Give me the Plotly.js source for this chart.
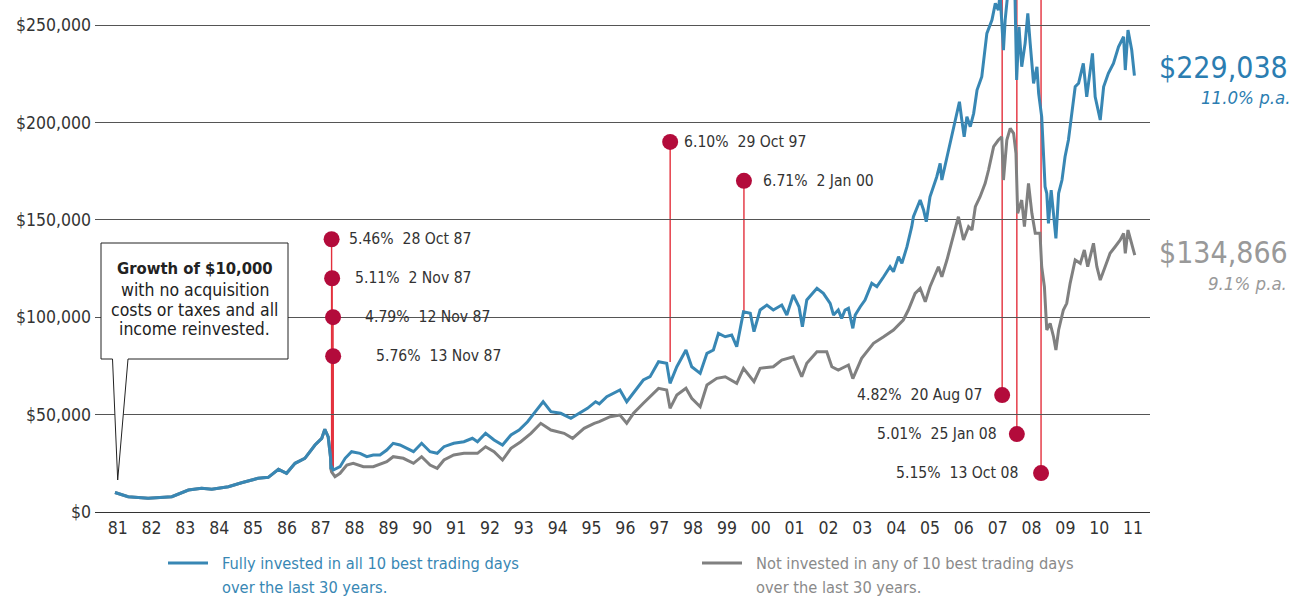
<!DOCTYPE html>
<html>
<head>
<meta charset="utf-8">
<script src="https://cdn.plot.ly/plotly-3.0.1.min.js"></script>
<style>html,body{margin:0;padding:0;background:#fff;}#chart{width:1304px;height:596px;}</style>
</head>
<body>
<div id="chart"></div>
<script>
// ---------------- DATA ----------------
// Fully invested (blue)
const blueYears = [1981.42,1981.81,1982.40,1983.10,1983.59,1983.98,1984.28,1984.77,1985.16,1985.65,1985.95,1986.25,1986.49,1986.74,1987.03,1987.33,1987.53,1987.62,1987.72,1987.79,1987.80,
  1987.82,1987.87,1988.07,1988.22,1988.41,1988.66,1988.86,1989.05,1989.25,1989.45,1989.64,1989.84,1990.04,1990.24,1990.48,1990.73,1990.94,1991.14,1991.43,1991.73,1991.98,
  1992.13,1992.37,1992.62,1992.87,1993.12,1993.36,1993.61,1993.80,1994.07,1994.30,1994.59,1994.89,1995.14,1995.38,1995.62,1995.73,1995.95,1996.15,1996.34,1996.54,1996.74,
  1997.03,1997.23,1997.48,1997.72,1997.82,1998.02,1998.29,1998.46,1998.71,1998.91,1999.10,1999.25,1999.45,1999.64,1999.79,1999.99,2000.19,2000.30,2000.48,2000.68,2000.87,
  2001.12,2001.27,2001.46,2001.63,2001.73,2001.86,2002.16,2002.35,2002.55,2002.65,2002.79,2002.89,2002.99,2003.09,2003.22,2003.29,2003.44,2003.58,2003.78,2003.93,
  2004.13,2004.32,2004.42,2004.57,2004.67,2004.82,2004.96,2005.01,2005.21,2005.31,2005.39,2005.50,2005.70,2005.80,2005.85,2006.00,2006.14,2006.29,2006.37,2006.44,
  2006.51,2006.59,2006.69,2006.79,2006.89,2007.03,2007.18,2007.33,2007.43,2007.52,2007.57,2007.67,2007.72,2007.82,2007.93,2008.01,2008.06,2008.13,2008.21,2008.31,
  2008.39,2008.46,2008.56,2008.66,2008.71,2008.80,2008.85,2008.90,2008.95,2009.00,2009.08,2009.15,2009.22,2009.30,2009.40,2009.49,2009.59,2009.69,2009.79,2009.89,
  2010.03,2010.13,2010.30,2010.38,2010.53,2010.63,2010.77,2010.92,2011.07,2011.22,2011.27,2011.35,2011.46,2011.54];
const blueValues = [10000,7850,7030,7850,11300,12170,11650,12990,15040,17300,17810,21920,19860,25000,27560,34390,37830,42450,38500,28000,22000,
  23500,21560,23250,27560,30950,30130,28390,29260,29260,31820,35260,34390,32700,30950,35260,30950,30130,33520,35260,36080,37830,
  36080,40400,36960,34390,39520,42090,46350,50660,56620,51480,50660,48100,50660,53230,56620,55500,59180,60930,62620,56620,60930,
  67760,69450,77150,76330,66060,74580,83150,74580,71190,81460,83150,91730,89980,90850,84850,102810,101990,92550,103690,106250,103690,
  106250,101120,111390,105380,95110,108820,114820,112260,107130,101120,103690,99430,103690,104560,94290,101120,105380,108820,117390,115650,
  120780,125910,123350,131050,127660,136180,146450,151580,160150,155020,149010,161840,172110,178990,170420,182380,192640,204650,210610,201210,
  192640,202910,197780,204650,216610,223440,245720,252540,261110,257680,266000,237140,252540,270000,272000,266000,221750,249110,228570,240580,
  255980,240580,220050,228570,214920,202910,185810,166980,163590,148190,165280,151580,140490,163590,170420,182380,190950,204650,218310,220050,
  230320,213180,235450,213180,201210,218310,225180,230320,238840,243970,226880,247410,237140,224000];

// Not invested in any of the best days (gray) — identical to blue before the Oct-87 best days
const grayYears = [1981.42,1981.81,1982.40,1983.10,1983.59,1983.98,1984.28,1984.77,1985.16,1985.65,1985.95,1986.25,1986.49,1986.74,1987.03,1987.33,1987.53,1987.62,1987.72,1987.79,1987.80,
  1987.82,1987.92,1988.07,1988.27,1988.46,1988.76,1989.05,1989.45,1989.64,1989.94,1990.24,1990.48,1990.73,1990.94,1991.14,1991.43,1991.73,1992.13,1992.37,1992.62,1992.87,
  1993.12,1993.41,1993.71,1994.00,1994.30,1994.69,1994.94,1995.28,1995.58,1995.73,1996.05,1996.34,1996.54,1996.74,1997.03,1997.23,1997.48,1997.72,1997.82,1998.02,
  1998.29,1998.46,1998.71,1998.91,1999.20,1999.45,1999.79,1999.99,2000.30,2000.48,2000.87,2001.12,2001.46,2001.71,2001.86,2002.16,2002.45,2002.60,2002.79,2003.09,
  2003.22,2003.48,2003.83,2004.13,2004.42,2004.71,2004.86,2005.06,2005.21,2005.36,2005.50,2005.75,2005.85,2006.00,2006.19,2006.34,2006.49,2006.64,2006.74,2006.84,
  2006.98,2007.13,2007.23,2007.38,2007.52,2007.62,2007.67,2007.77,2007.87,2007.97,2008.04,2008.09,2008.21,2008.29,2008.41,2008.51,2008.61,2008.75,2008.80,2008.88,
  2008.95,2009.05,2009.15,2009.22,2009.30,2009.44,2009.54,2009.64,2009.79,2009.94,2010.06,2010.16,2010.33,2010.43,2010.53,2010.67,2010.82,2010.97,2011.12,2011.22,
  2011.27,2011.35,2011.45,2011.55];
const grayValues = [10000,7850,7030,7850,11300,12170,11650,12990,15040,17300,17810,21920,19860,25000,27560,34390,37830,42450,38500,28000,22000,
  20600,18120,19860,24130,25000,23250,23250,25820,28390,27560,25000,28390,24130,22430,26690,29260,30130,30130,33520,30950,26690,
  32700,36080,40400,45530,42090,40400,37830,42960,45530,46350,48920,49790,45530,50660,55800,59180,63490,62620,53230,60060,
  63490,58360,54050,65190,68630,69450,66060,73760,66880,73760,74580,78020,79720,69450,76330,82280,82280,74580,72890,75450,
  68500,78890,86590,89980,93420,98550,103690,112260,114820,107950,115650,125910,120780,129350,141310,151580,139620,146450,144750,156710,
  161840,168720,175550,187510,190950,192640,170420,190950,196950,194390,184120,153320,160150,146450,168720,153320,143060,143060,125910,115650,
  93420,96860,89980,83150,93420,103690,107130,117390,129350,127660,134480,125910,137920,125910,119090,125910,132790,136180,139620,143060,
  132790,144750,137920,131920];

// best trading days (event) annotations
const eventYears   = [1987.820,1987.836,1987.863,1987.866,1997.823,2000.003,2007.632,2008.066,2008.781];
const eventLabels  = ['5.46%\u00a0\u00a028 Oct 87','5.11%\u00a0\u00a02 Nov 87','4.79%\u00a0\u00a012 Nov 87','5.76%\u00a0\u00a013 Nov 87',
                      '6.10%\u00a0\u00a029 Oct 97','6.71%\u00a0\u00a02 Jan 00','4.82%\u00a0\u00a020 Aug 07','5.01%\u00a0\u00a025 Jan 08','5.15%\u00a0\u00a013 Oct 08'];
const eventMarkerY = [140000,120000,100000,80000,190000,170000,60000,40000,20000];
const eventLineEnd = [22000,22000,22000,22000,77000,102000,262834,262834,262834];

const yTickVals = [0,50000,100000,150000,200000,250000];
const yTickText = ['$0','$50,000','$100,000','$150,000','$200,000','$250,000'];
const xTickVals = [1981.5,1982.5,1983.5,1984.5,1985.5,1986.5,1987.5,1988.5,1989.5,1990.5,1991.5,1992.5,1993.5,1994.5,1995.5,1996.5,1997.5,1998.5,1999.5,2000.5,2001.5,2002.5,2003.5,2004.5,2005.5,2006.5,2007.5,2008.5,2009.5,2010.5,2011.5];
const xTickText = ['81','82','83','84','85','86','87','88','89','90','91','92','93','94','95','96','97','98','99','00','01','02','03','04','05','06','07','08','09','10','11'];

const seriesNames = [['Fully invested in all 10 best trading days','over the last 30 years.'],['Not invested in any of 10 best trading days','over the last 30 years.']];
const endValues = ['$229,038','$134,866'];
const endRates = ['11.0% p.a.','9.1% p.a.'];
const calloutTitle = 'Growth of $10,000';
const calloutLines = ['with no acquisition','costs or taxes and all','income reinvested.'];

// ---------------- STYLE / LAYOUT ----------------
const FONT = 'DejaVu Sans Condensed, DejaVu Sans, sans-serif';
const BLUE = '#3887b4', GRAY = '#808080', DARKRED = '#b30b3b', RED = '#e3303c';
const W = 1304, H = 596, ML = 95, MR = 154, MT = 0, MB = 84;
const PW = W - ML - MR, PH = H - MT - MB;
const px = v => (v - ML) / PW;            // pixel x -> paper x
const py = v => (H - MB - v) / PH;        // pixel y -> paper y

const traces = [
  {x: grayYears, y: grayValues, type: 'scatter', mode: 'lines', line: {color: GRAY, width: 3}, hoverinfo: 'skip', showlegend: false},
  {x: blueYears, y: blueValues, type: 'scatter', mode: 'lines', line: {color: BLUE, width: 3}, hoverinfo: 'skip', showlegend: false},
  {x: eventYears, y: eventMarkerY, type: 'scatter', mode: 'markers', marker: {color: DARKRED, size: 16}, hoverinfo: 'skip', showlegend: false}
];

const shapes = [];
// white gaps in grid lines behind label blocks
shapes.push({type: 'rect', xref: 'paper', yref: 'paper', x0: px(338), x1: px(519), y0: py(335), y1: py(300), fillcolor: '#fff', line: {width: 0}, layer: 'below'});
shapes.push({type: 'rect', xref: 'paper', yref: 'paper', x0: px(828), x1: px(1040), y0: py(425), y1: py(405), fillcolor: '#fff', line: {width: 0}, layer: 'below'});
// red connector lines
eventYears.forEach((yr, i) => {
  shapes.push({type: 'line', xref: 'x', yref: 'y', x0: yr, x1: yr, y0: eventMarkerY[i], y1: eventLineEnd[i],
    line: {color: RED, width: 1.4}, layer: 'below'});
});
// callout box with pointer
shapes.push({type: 'path', xref: 'paper', yref: 'paper',
  path: `M ${px(101)},${py(243)} L ${px(288)},${py(243)} L ${px(288)},${py(359)} L ${px(128)},${py(359)} L ${px(117.7)},${py(480)} L ${px(112.5)},${py(359)} L ${px(101)},${py(359)} Z`,
  fillcolor: '#fff', line: {color: '#222', width: 1}, layer: 'above'});
// legend line samples
shapes.push({type: 'line', xref: 'paper', yref: 'paper', x0: px(168), x1: px(208), y0: py(563), y1: py(563), line: {color: BLUE, width: 3}});
shapes.push({type: 'line', xref: 'paper', yref: 'paper', x0: px(702), x1: px(742), y0: py(563), y1: py(563), line: {color: GRAY, width: 3}});

const annotations = [];
const shifts = [15, 21, 30, 41, 12, 17, -18, -18, -21];
eventYears.forEach((yr, i) => {
  annotations.push({x: yr, y: eventMarkerY[i], xref: 'x', yref: 'y', text: eventLabels[i], showarrow: false,
    xanchor: shifts[i] > 0 ? 'left' : 'right', yanchor: 'middle', xshift: shifts[i],
    font: {family: FONT, size: 15.6, color: '#333'}});
});
annotations.push({xref: 'paper', yref: 'paper', x: px(194.5), y: py(268), text: '<b>' + calloutTitle + '</b>', showarrow: false,
  xanchor: 'center', yanchor: 'middle', font: {family: FONT, size: 16.5, color: '#222'}});
calloutLines.forEach((t, i) => {
  annotations.push({xref: 'paper', yref: 'paper', x: px(194.5), y: py(290 + 19.5 * i), text: t, showarrow: false,
    xanchor: 'center', yanchor: 'middle', font: {family: FONT, size: 17.5, color: '#222'}});
});
[[220, BLUE], [754, '#8a8a8a']].forEach((d, s) => {
  seriesNames[s].forEach((t, i) => {
    annotations.push({xref: 'paper', yref: 'paper', x: px(d[0]), y: py(563 + 24 * i), text: t, showarrow: false,
      xanchor: 'left', yanchor: 'middle', font: {family: FONT, size: 16.3, color: d[1]}});
  });
});
annotations.push({xref: 'paper', yref: 'paper', x: px(1290), y: py(67), text: endValues[0], showarrow: false,
  xanchor: 'right', yanchor: 'middle', font: {family: FONT, size: 30, color: '#2b7db1'}});
annotations.push({xref: 'paper', yref: 'paper', x: px(1292), y: py(97), text: '<i>' + endRates[0] + '</i>', showarrow: false,
  xanchor: 'right', yanchor: 'middle', font: {family: FONT, size: 18.5, color: '#2b7db1'}});
annotations.push({xref: 'paper', yref: 'paper', x: px(1290), y: py(252), text: endValues[1], showarrow: false,
  xanchor: 'right', yanchor: 'middle', font: {family: FONT, size: 30, color: '#999'}});
annotations.push({xref: 'paper', yref: 'paper', x: px(1289), y: py(283), text: '<i>' + endRates[1] + '</i>', showarrow: false,
  xanchor: 'right', yanchor: 'middle', font: {family: FONT, size: 18.5, color: '#999'}});

const layout = {
  width: W, height: H,
  margin: {l: ML, r: MR, t: MT, b: MB, pad: 0},
  paper_bgcolor: '#fff', plot_bgcolor: 'rgba(0,0,0,0)',
  showlegend: false,
  font: {family: FONT, color: '#333'},
  xaxis: {range: [1980.83, 2012.0], tickvals: xTickVals, ticktext: xTickText, showgrid: false, zeroline: false,
    showline: true, linecolor: '#333', linewidth: 1.2, ticks: '', ticklen: 0, tickfont: {family: FONT, size: 17.5, color: '#333'}, fixedrange: true},
  yaxis: {range: [0, 262834], tickvals: yTickVals, ticktext: yTickText, showgrid: true, gridcolor: '#555', gridwidth: 1,
    zeroline: false, showline: false, ticks: '', ticklen: 0, ticklabelstandoff: 3,
    tickfont: {family: FONT, size: 17.5, color: '#333'}, fixedrange: true},
  shapes: shapes,
  annotations: annotations
};

Plotly.newPlot('chart', traces, layout, {staticPlot: true, displayModeBar: false});
</script>
</body>
</html>
